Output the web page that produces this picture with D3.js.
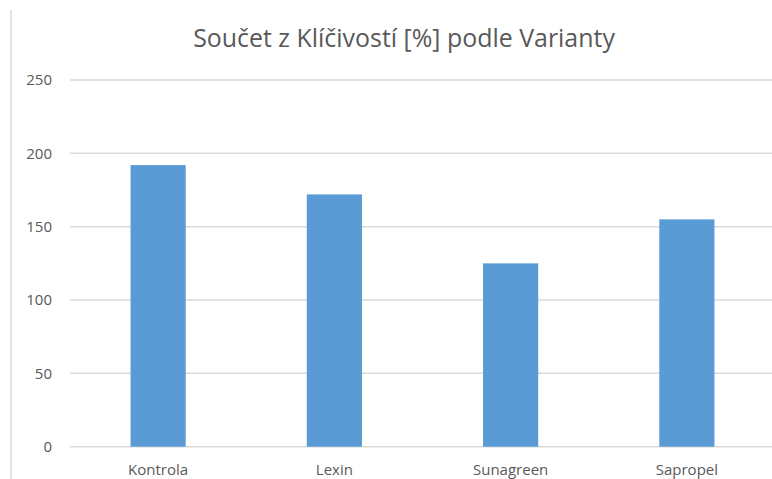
<!DOCTYPE html>
<html>
<head>
<meta charset="utf-8">
<script src="https://cdn.jsdelivr.net/npm/d3@7"></script>
<style>
  body { margin: 0; background: #fff; }
  svg text { font-family: "Open Sans", sans-serif; fill: #595959; }
</style>
</head>
<body>
<div id="content"></div>
<script>
// data
const varianty = ["Kontrola", "Lexin", "Sunagreen", "Sapropel"];
const klicivost = [192, 172, 125, 155];
const yTicks = [0, 50, 100, 150, 200, 250];
const chartTitle = "Součet z Klíčivostí [%] podle Varianty";

const svg_width = 772;
const svg_height = 479;

const svg = d3.select("#content")
  .append("svg")
  .attr("width", svg_width)
  .attr("height", svg_height);

// left edge of the chart frame
svg.append("line")
  .attr("x1", 11).attr("x2", 11)
  .attr("y1", 10).attr("y2", svg_height)
  .style("stroke", "#d9d9d9")
  .style("stroke-width", 1.5);

let x = d3.scaleBand()
  .domain(varianty)
  .range([70, 775])
  .paddingInner(0.687)
  .paddingOuter(0.3435);

let y = d3.scaleLinear()
  .domain([0, 250])
  .range([446.7, 80]);

// gridlines
svg.append("g")
  .selectAll("line")
  .data(yTicks)
  .join("line")
  .attr("x1", 70)
  .attr("x2", 775)
  .attr("y1", d => y(d))
  .attr("y2", d => y(d))
  .style("stroke", "#d9d9d9")
  .style("stroke-width", 1.5);

// bars
svg.append("g")
  .selectAll("rect")
  .data(klicivost)
  .join("rect")
  .attr("x", (d, i) => x(varianty[i]))
  .attr("y", d => y(d))
  .attr("width", x.bandwidth())
  .attr("height", d => y(0) - y(d))
  .style("fill", "#5b9bd5");

// y axis labels
let yAxis = svg.append("g")
  .attr("transform", "translate(70,0)")
  .call(d3.axisLeft(y).tickValues(yTicks).tickSize(0).tickPadding(18));
yAxis.select(".domain").remove();
yAxis.selectAll("text").style("font-size", "15px").style("fill", "#595959");

// x axis labels
let xAxis = svg.append("g")
  .attr("transform", "translate(0," + y(0) + ")")
  .call(d3.axisBottom(x).tickSize(0).tickPadding(18));
xAxis.select(".domain").remove();
xAxis.selectAll("text").style("font-size", "15px").style("fill", "#595959");

// title, sized to the width it has in the picture
let title = svg.append("text")
  .attr("x", 404)
  .attr("y", 47)
  .attr("text-anchor", "middle")
  .style("font-size", "24px")
  .style("fill", "#595959")
  .text(chartTitle);
let tw = title.node().getComputedTextLength();
title.style("font-size", (24 * 422 / tw) + "px");
</script>
</body>
</html>
